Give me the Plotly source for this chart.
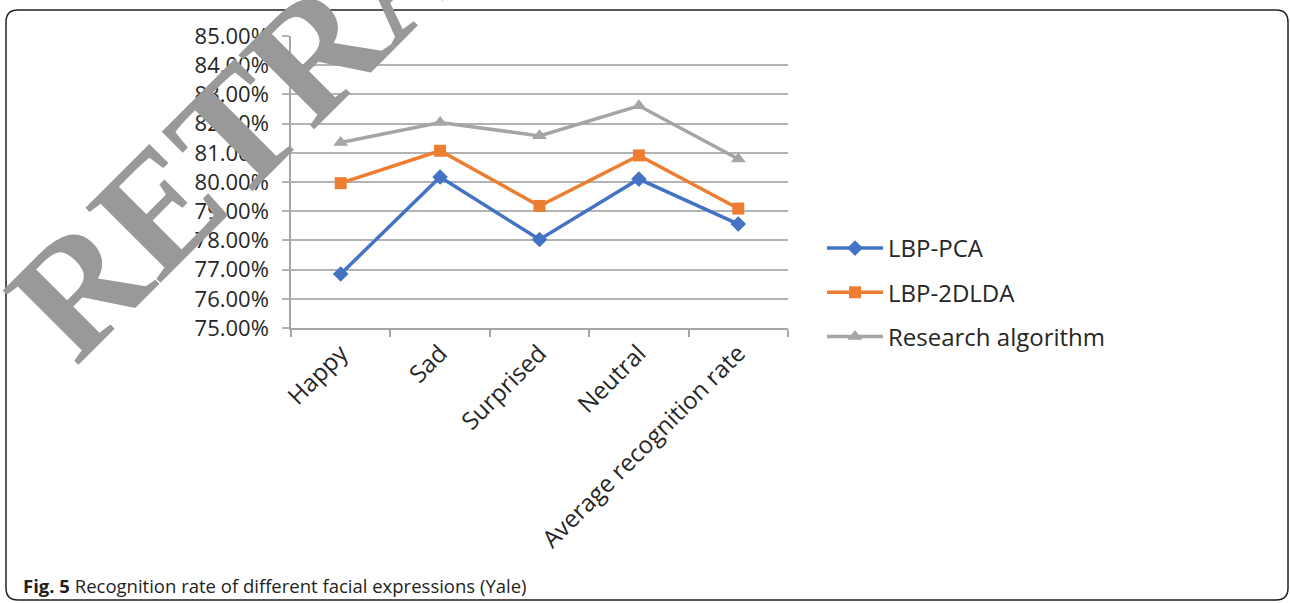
import plotly.graph_objects as go

# Recognition rates (%) on the Yale database
categories = ["Happy", "Sad", "Surprised", "Neutral", "Average recognition rate"]
lbp_pca = [76.85, 80.17, 78.03, 80.10, 78.56]
lbp_2dlda = [79.96, 81.07, 79.18, 80.91, 79.09]
research_alg = [81.35, 82.04, 81.58, 82.61, 80.79]
y_ticks = [75, 76, 77, 78, 79, 80, 81, 82, 83, 84, 85]
y_tick_text = [f"{v:.2f}%" for v in y_ticks]

W, H = 1290, 603
L, R, T, B = 291, 788, 36, 328  # plot-area pixel box


def px(x):
    return (x - L) / (R - L)


def py(y):
    return (B - y) / (B - T)


font_main = "Open Sans, Liberation Sans, sans-serif"

fig = go.Figure()
series = [
    ("LBP-PCA", lbp_pca, "#4472C4", "diamond", 12),
    ("LBP-2DLDA", lbp_2dlda, "#ED7D31", "square", 12),
    ("Research algorithm", research_alg, "#A5A5A5", "triangle-up", 13),
]
for name, vals, color, sym, size in series:
    fig.add_trace(go.Scatter(
        x=categories, y=vals, name=name, mode="lines+markers",
        line=dict(color=color, width=3.5),
        marker=dict(symbol=sym, size=size, color=color),
        legendgroup=name,
    ))

fig.update_xaxes(
    type="category", showgrid=False, showline=True, linecolor="#a6a6a6", linewidth=1.5,
    ticks="outside", tickson="boundaries", ticklen=7, tickcolor="#a6a6a6", tickwidth=1.5,
    tickangle=-45, tickfont=dict(family=font_main, size=24, color="#262626"),
    range=[-0.5, 4.5],
)
fig.update_yaxes(
    range=[75, 85], tickvals=y_ticks, ticktext=y_tick_text,
    showgrid=True, gridcolor="#b3b3b3", gridwidth=1.5,
    showline=True, linecolor="#a6a6a6", linewidth=1.5, zeroline=False,
    ticks="outside", ticklen=7, tickcolor="#b3b3b3", tickwidth=1.5,
    ticklabelstandoff=9,
    tickfont=dict(family=font_main, size=22, color="#262626"),
)

# Rounded frame around the figure
x0, x1, y0, y1, r = 6, 1288, 10, 600, 12
path = (
    f"M {px(x0 + r)},{py(y0)} L {px(x1 - r)},{py(y0)} "
    f"Q {px(x1)},{py(y0)} {px(x1)},{py(y0 + r)} L {px(x1)},{py(y1 - r)} "
    f"Q {px(x1)},{py(y1)} {px(x1 - r)},{py(y1)} L {px(x0 + r)},{py(y1)} "
    f"Q {px(x0)},{py(y1)} {px(x0)},{py(y1 - r)} L {px(x0)},{py(y0 + r)} "
    f"Q {px(x0)},{py(y0)} {px(x0 + r)},{py(y0)} Z"
)
fig.add_shape(type="path", path=path, xref="paper", yref="paper",
              line=dict(color="#231f20", width=1.5), layer="below")

# Figure caption
fig.add_annotation(
    x=px(21), y=py(585), xref="paper", yref="paper", xanchor="left", yanchor="middle",
    text="<b>Fig. 5</b> Recognition rate of different facial expressions (Yale)",
    showarrow=False, font=dict(family="Open Sans, sans-serif", size=18.5, color="#231f20"),
)

# Retraction watermark, rotated 45 degrees across the upper left
fig.add_annotation(
    x=px(667), y=py(-300), xref="paper", yref="paper", xanchor="center", yanchor="middle",
    text="<b>RETRACTED ARTICLE</b>", textangle=-45, showarrow=False,
    font=dict(family="Liberation Serif, serif", size=162, color="#999999"),
)

fig.update_layout(
    width=W, height=H,
    margin=dict(l=L, r=W - R, t=T, b=H - B, pad=0),
    paper_bgcolor="white", plot_bgcolor="white",
    showlegend=True,
    legend=dict(
        x=px(822), y=py(226), xanchor="left", yanchor="top",
        font=dict(family=font_main, size=24, color="#262626"),
        tracegroupgap=10, itemwidth=56, bgcolor="rgba(0,0,0,0)",
    ),
)

fig.write_html("out.html")
